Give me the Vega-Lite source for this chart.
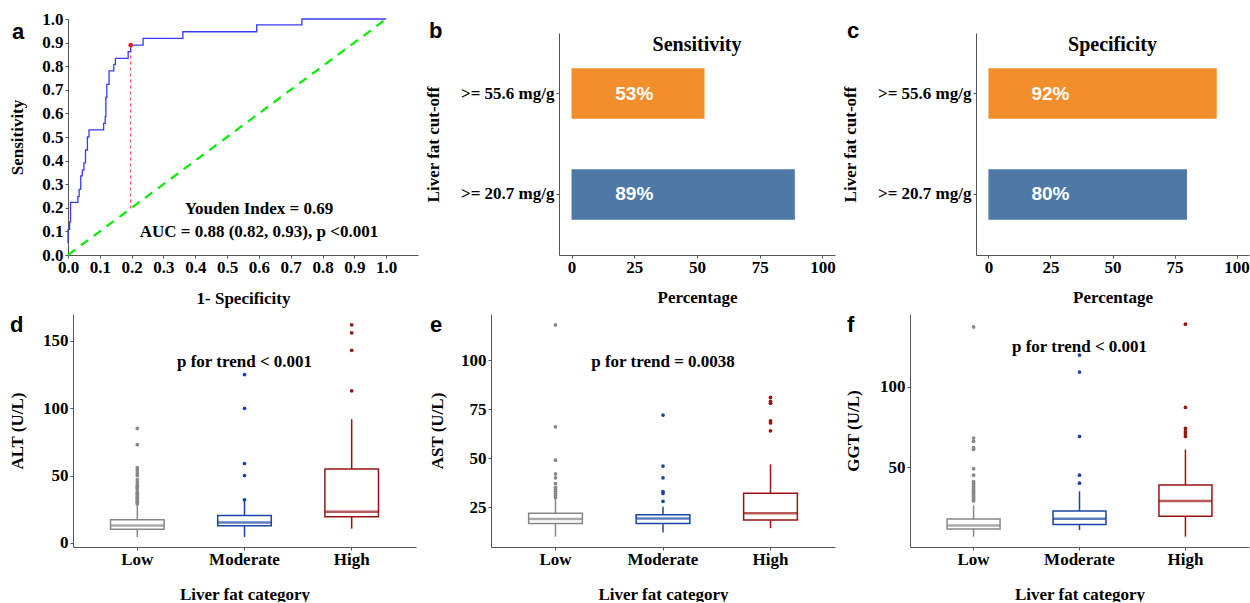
{
"$schema": "https://vega.github.io/schema/vega-lite/v6.json",
"autosize": {"type": "pad"},
"padding": {"left": 8, "top": 10, "right": 0, "bottom": 0},
"background": "white",
"spacing": 8,
"resolve": {"scale": {"color": "independent", "stroke": "independent"}},
"config": {
  "view": {"stroke": null},
  "axis": {"grid": false, "domainColor": "#555555", "tickColor": "#555555", "domainWidth": 1, "tickWidth": 1, "tickSize": 3, "labelPadding": 1, "labelFont": "Liberation Serif", "labelFontSize": 17, "labelFontWeight": "bold", "labelColor": "black", "titleFont": "Liberation Serif", "titleFontSize": 17, "titleFontWeight": "bold", "titleColor": "black", "labelAngle": 0, "labelOverlap": false, "labelFlush": false},
  "axisY": {"labelPadding": 2},
  "title": {"anchor": "start", "frame": "group", "font": "Liberation Sans", "fontSize": 22, "fontWeight": "bold", "color": "black", "baseline": "alphabetic", "offset": -20}
},
"datasets": {
  "roc": [
    {"i":0,"fpr":0,"tpr":0.05},{"i":1,"fpr":0,"tpr":0.109},{"i":2,"fpr":0.005,"tpr":0.109},{"i":3,"fpr":0.005,"tpr":0.14},{"i":4,"fpr":0.008,"tpr":0.14},{"i":5,"fpr":0.008,"tpr":0.223},{"i":6,"fpr":0.031,"tpr":0.223},{"i":7,"fpr":0.031,"tpr":0.247},{"i":8,"fpr":0.035,"tpr":0.247},{"i":9,"fpr":0.035,"tpr":0.278},{"i":10,"fpr":0.04,"tpr":0.278},{"i":11,"fpr":0.04,"tpr":0.335},{"i":12,"fpr":0.045,"tpr":0.335},{"i":13,"fpr":0.045,"tpr":0.36},{"i":14,"fpr":0.05,"tpr":0.36},{"i":15,"fpr":0.05,"tpr":0.39},{"i":16,"fpr":0.055,"tpr":0.39},{"i":17,"fpr":0.055,"tpr":0.445},{"i":18,"fpr":0.061,"tpr":0.445},{"i":19,"fpr":0.061,"tpr":0.5},{"i":20,"fpr":0.066,"tpr":0.5},{"i":21,"fpr":0.066,"tpr":0.53},{"i":22,"fpr":0.112,"tpr":0.53},{"i":23,"fpr":0.112,"tpr":0.558},{"i":24,"fpr":0.117,"tpr":0.558},{"i":25,"fpr":0.117,"tpr":0.586},{"i":26,"fpr":0.119,"tpr":0.586},{"i":27,"fpr":0.119,"tpr":0.668},{"i":28,"fpr":0.122,"tpr":0.668},{"i":29,"fpr":0.122,"tpr":0.723},{"i":30,"fpr":0.129,"tpr":0.723},{"i":31,"fpr":0.129,"tpr":0.78},{"i":32,"fpr":0.144,"tpr":0.78},{"i":33,"fpr":0.144,"tpr":0.808},{"i":34,"fpr":0.149,"tpr":0.808},{"i":35,"fpr":0.149,"tpr":0.833},{"i":36,"fpr":0.189,"tpr":0.833},{"i":37,"fpr":0.189,"tpr":0.862},{"i":38,"fpr":0.197,"tpr":0.862},{"i":39,"fpr":0.197,"tpr":0.889},{"i":40,"fpr":0.236,"tpr":0.889},{"i":41,"fpr":0.236,"tpr":0.918},{"i":42,"fpr":0.361,"tpr":0.918},{"i":43,"fpr":0.361,"tpr":0.946},{"i":44,"fpr":0.593,"tpr":0.946},{"i":45,"fpr":0.593,"tpr":0.975},{"i":46,"fpr":0.735,"tpr":0.975},{"i":47,"fpr":0.735,"tpr":1},{"i":48,"fpr":1,"tpr":1}
  ],
  "cut": [{"fpr": 0.197, "tpr": 0.889}],
  "sens": [{"cutoff": ">= 55.6 mg/g", "value": 53, "label": "53%"}, {"cutoff": ">= 20.7 mg/g", "value": 89, "label": "89%"}],
  "spec": [{"cutoff": ">= 55.6 mg/g", "value": 92, "label": "92%"}, {"cutoff": ">= 20.7 mg/g", "value": 80, "label": "80%"}],
  "alt_box": [{"cat":"Low","lo":4.4,"q1":10.1,"med":13,"q3":17.2,"hi":28},{"cat":"Moderate","lo":4.4,"q1":12.8,"med":15.2,"q3":20.4,"hi":31.5},{"cat":"High","lo":10.6,"q1":19.5,"med":23.2,"q3":54.9,"hi":91.9}],
  "alt_out": [{"cat":"Low","v":29},{"cat":"Low","v":30},{"cat":"Low","v":31},{"cat":"Low","v":32},{"cat":"Low","v":33},{"cat":"Low","v":34},{"cat":"Low","v":35},{"cat":"Low","v":36},{"cat":"Low","v":37},{"cat":"Low","v":38},{"cat":"Low","v":40},{"cat":"Low","v":41},{"cat":"Low","v":42},{"cat":"Low","v":43},{"cat":"Low","v":45},{"cat":"Low","v":47},{"cat":"Low","v":50},{"cat":"Low","v":52},{"cat":"Low","v":54},{"cat":"Low","v":56},{"cat":"Low","v":73},{"cat":"Low","v":85},{"cat":"Moderate","v":32},{"cat":"Moderate","v":50},{"cat":"Moderate","v":59},{"cat":"Moderate","v":100},{"cat":"Moderate","v":125},{"cat":"High","v":113},{"cat":"High","v":143},{"cat":"High","v":156},{"cat":"High","v":162}],
  "ast_box": [{"cat":"Low","lo":10,"q1":16.7,"med":19,"q3":21.9,"hi":29.6},{"cat":"Moderate","lo":12.1,"q1":16.7,"med":19.2,"q3":21.1,"hi":25.3},{"cat":"High","lo":14.3,"q1":18.5,"med":21.9,"q3":32.1,"hi":46.9}],
  "ast_out": [{"cat":"Low","v":30},{"cat":"Low","v":31},{"cat":"Low","v":32},{"cat":"Low","v":33},{"cat":"Low","v":34},{"cat":"Low","v":35},{"cat":"Low","v":37},{"cat":"Low","v":40},{"cat":"Low","v":42},{"cat":"Low","v":49},{"cat":"Low","v":66},{"cat":"Low","v":118},{"cat":"Moderate","v":28},{"cat":"Moderate","v":32},{"cat":"Moderate","v":33},{"cat":"Moderate","v":40},{"cat":"Moderate","v":46},{"cat":"Moderate","v":72},{"cat":"High","v":64},{"cat":"High","v":68},{"cat":"High","v":69},{"cat":"High","v":78},{"cat":"High","v":79},{"cat":"High","v":81}],
  "ggt_box": [{"cat":"Low","lo":6.8,"q1":11.5,"med":13.8,"q3":17.7,"hi":26.3},{"cat":"Moderate","lo":10.9,"q1":14.4,"med":17.9,"q3":22.8,"hi":35},{"cat":"High","lo":6.8,"q1":19.5,"med":29,"q3":38.9,"hi":60.9}],
  "ggt_out": [{"cat":"Low","v":29},{"cat":"Low","v":30},{"cat":"Low","v":31},{"cat":"Low","v":32},{"cat":"Low","v":33},{"cat":"Low","v":34},{"cat":"Low","v":35},{"cat":"Low","v":36},{"cat":"Low","v":37},{"cat":"Low","v":38},{"cat":"Low","v":39},{"cat":"Low","v":40},{"cat":"Low","v":41},{"cat":"Low","v":45},{"cat":"Low","v":49},{"cat":"Low","v":61},{"cat":"Low","v":62},{"cat":"Low","v":66},{"cat":"Low","v":68},{"cat":"Low","v":137},{"cat":"Moderate","v":40},{"cat":"Moderate","v":45},{"cat":"Moderate","v":69},{"cat":"Moderate","v":109},{"cat":"Moderate","v":119.5},{"cat":"High","v":69},{"cat":"High","v":70.5},{"cat":"High","v":72},{"cat":"High","v":74},{"cat":"High","v":87},{"cat":"High","v":138.7}]
},
"vconcat": [
 {"hconcat": [
  {"width": 350, "height": 236,
   "title": {"text": "a", "dx": -56, "dy": 14},
   "encoding": {
     "x": {"type": "quantitative", "scale": {"domain": [0, 1.1], "nice": false}, "axis": {"values": [0,0.1,0.2,0.3,0.4,0.5,0.6,0.7,0.8,0.9,1.0], "tickCount": 11, "format": ".1f", "title": "1- Specificity", "titlePadding": 15, "labelOverlap": false, "labelSeparation": 0}},
     "y": {"type": "quantitative", "scale": {"domain": [0, 1], "nice": false}, "axis": {"values": [0,0.1,0.2,0.3,0.4,0.5,0.6,0.7,0.8,0.9,1.0], "tickCount": 11, "format": ".1f", "title": "Sensitivity", "titlePadding": 15, "labelOverlap": false, "labelSeparation": 0}}
   },
   "layer": [
    {"data": {"values": [{}]},
     "mark": {"type": "rule", "color": "#00ee00", "strokeWidth": 2.2, "strokeDash": [9, 7]},
     "encoding": {"x": {"datum": 0}, "y": {"datum": 0}, "x2": {"datum": 1}, "y2": {"datum": 1}}},
    {"data": {"name": "cut"},
     "mark": {"type": "rule", "color": "#ff3030", "strokeWidth": 1, "strokeDash": [3, 3]},
     "encoding": {"x": {"field": "fpr"}, "y": {"field": "fpr"}, "y2": {"field": "tpr"}}},
    {"data": {"name": "roc"},
     "mark": {"type": "line", "color": "#3a3aff", "strokeWidth": 1.3},
     "encoding": {"x": {"field": "fpr"}, "y": {"field": "tpr"}, "order": {"field": "i", "type": "quantitative"}}},
    {"data": {"name": "cut"},
     "mark": {"type": "circle", "color": "#ff1a1a", "size": 22, "opacity": 1},
     "encoding": {"x": {"field": "fpr"}, "y": {"field": "tpr"}}},
    {"data": {"values": [{"t": "Youden Index = 0.69"}]},
     "mark": {"type": "text", "font": "Liberation Serif", "fontSize": 17, "fontWeight": "bold", "color": "black", "align": "center", "baseline": "middle"},
     "encoding": {"x": {"datum": 0.6}, "y": {"datum": 0.195}, "text": {"field": "t"}}},
    {"data": {"values": [{"t": "AUC = 0.88 (0.82, 0.93), p <0.001"}]},
     "mark": {"type": "text", "font": "Liberation Serif", "fontSize": 17, "fontWeight": "bold", "color": "black", "align": "center", "baseline": "middle"},
     "encoding": {"x": {"datum": 0.6}, "y": {"datum": 0.097}, "text": {"field": "t"}}}
   ]},
  {"width": 276, "height": 236,
   "title": {"text": "b", "dx": -130, "dy": 4},
   "resolve": {"scale": {"y": "independent"}},
   "layer": [
    {"layer": [
     {"data": {"name": "sens"},
      "mark": {"type": "bar"},
      "encoding": {
        "y": {"field": "cutoff", "type": "nominal", "sort": [">= 55.6 mg/g", ">= 20.7 mg/g"], "scale": {"domain": [">= 55.6 mg/g", ">= 20.7 mg/g"], "paddingInner": 0.5, "paddingOuter": 0.35, "range": [14, 236]}, "axis": {"title": "Liver fat cut-off", "titlePadding": 18}},
        "x": {"field": "value", "type": "quantitative", "scale": {"domain": [-5, 105], "nice": false}, "axis": {"values": [0, 25, 50, 75, 100], "title": "Percentage", "titlePadding": 14}},
        "x2": {"datum": 0},
        "color": {"field": "cutoff", "type": "nominal", "scale": {"domain": [">= 55.6 mg/g", ">= 20.7 mg/g"], "range": ["#f28e2b", "#4e79a7"]}, "legend": null}}},
     {"data": {"name": "sens"},
      "mark": {"type": "text", "font": "Liberation Sans", "fontSize": 19, "fontWeight": "bold", "color": "white", "align": "center", "baseline": "middle"},
      "encoding": {"y": {"field": "cutoff", "type": "nominal"}, "x": {"datum": 25}, "text": {"field": "label"}}}
    ]},
    {"data": {"values": [{"t": "Sensitivity"}]},
     "mark": {"type": "text", "font": "Liberation Serif", "fontSize": 20, "fontWeight": "bold", "color": "black", "align": "center", "baseline": "alphabetic"},
     "encoding": {"x": {"datum": 50}, "y": {"datum": 0.864, "type": "quantitative", "scale": {"domain": [0, 1]}, "axis": null}, "text": {"field": "t"}}}
   ]},
  {"width": 273, "height": 236,
   "title": {"text": "c", "dx": -129, "dy": 4},
   "resolve": {"scale": {"y": "independent"}},
   "layer": [
    {"layer": [
     {"data": {"name": "spec"},
      "mark": {"type": "bar"},
      "encoding": {
        "y": {"field": "cutoff", "type": "nominal", "sort": [">= 55.6 mg/g", ">= 20.7 mg/g"], "scale": {"domain": [">= 55.6 mg/g", ">= 20.7 mg/g"], "paddingInner": 0.5, "paddingOuter": 0.35, "range": [14, 236]}, "axis": {"title": "Liver fat cut-off", "titlePadding": 18}},
        "x": {"field": "value", "type": "quantitative", "scale": {"domain": [-5, 105], "nice": false}, "axis": {"values": [0, 25, 50, 75, 100], "title": "Percentage", "titlePadding": 14}},
        "x2": {"datum": 0},
        "color": {"field": "cutoff", "type": "nominal", "scale": {"domain": [">= 55.6 mg/g", ">= 20.7 mg/g"], "range": ["#f28e2b", "#4e79a7"]}, "legend": null}}},
     {"data": {"name": "spec"},
      "mark": {"type": "text", "font": "Liberation Sans", "fontSize": 19, "fontWeight": "bold", "color": "white", "align": "center", "baseline": "middle"},
      "encoding": {"y": {"field": "cutoff", "type": "nominal"}, "x": {"datum": 25}, "text": {"field": "label"}}}
    ]},
    {"data": {"values": [{"t": "Specificity"}]},
     "mark": {"type": "text", "font": "Liberation Serif", "fontSize": 20, "fontWeight": "bold", "color": "black", "align": "center", "baseline": "alphabetic"},
     "encoding": {"x": {"datum": 50}, "y": {"datum": 0.864, "type": "quantitative", "scale": {"domain": [0, 1]}, "axis": null}, "text": {"field": "t"}}}
   ]}
 ], "spacing": 141, "bounds": "flush", "resolve": {"scale": {"color": "independent", "stroke": "independent"}}},
 {"hconcat": [
  {"width": 348, "height": 233,
   "title": {"text": "d", "dx": -58, "dy": 3},
   "layer": [
    {"data": {"name": "alt_box"}, "mark": {"type": "rule", "strokeWidth": 1.5},
     "encoding": {
       "x": {"field": "cat", "type": "nominal", "scale": {"domain": ["Low","Moderate","High"], "paddingInner": 0.5, "paddingOuter": 0.35, "range": [5, 348]}, "axis": {"title": "Liver fat category", "titlePadding": 19}},
       "y": {"field": "lo", "type": "quantitative", "title": "ALT (U/L)", "scale": {"domain": [-3, 170], "nice": false, "zero": false}, "axis": {"values": [0, 50, 100, 150], "titlePadding": 16, "offset": -5}},
       "y2": {"field": "hi"},
       "color": {"field": "cat", "type": "nominal", "scale": {"domain": ["Low","Moderate","High"], "range": ["#878787","#1a46a3","#9b1414"]}, "legend": null}}},
    {"data": {"name": "alt_box"}, "mark": {"type": "bar", "fill": "white", "strokeWidth": 1.5},
     "encoding": {"x": {"field": "cat", "type": "nominal"}, "y": {"field": "q1", "type": "quantitative", "title": "ALT (U/L)"}, "y2": {"field": "q3"},
       "stroke": {"field": "cat", "type": "nominal", "scale": {"domain": ["Low","Moderate","High"], "range": ["#878787","#1a46a3","#9b1414"]}, "legend": null}}},
    {"data": {"name": "alt_box"}, "mark": {"type": "tick", "orient": "horizontal", "thickness": 2.5, "size": 53.6},
     "encoding": {"x": {"field": "cat", "type": "nominal"}, "y": {"field": "med", "type": "quantitative", "title": "ALT (U/L)"}, "color": {"field": "cat", "type": "nominal", "legend": null}}},
    {"data": {"name": "alt_out"}, "mark": {"type": "circle", "size": 14, "opacity": 1},
     "encoding": {"x": {"field": "cat", "type": "nominal"}, "y": {"field": "v", "type": "quantitative", "title": "ALT (U/L)"}, "color": {"field": "cat", "type": "nominal", "legend": null}}},
    {"data": {"values": [{"t": "p for trend < 0.001"}]},
     "mark": {"type": "text", "font": "Liberation Serif", "fontSize": 17, "fontWeight": "bold", "color": "black", "align": "center", "baseline": "middle"},
     "encoding": {"x": {"datum": "Moderate"}, "y": {"datum": 134.6}, "text": {"field": "t"}}}
   ]},
  {"width": 344, "height": 233,
   "title": {"text": "e", "dx": -61, "dy": 3},
   "layer": [
    {"data": {"name": "ast_box"}, "mark": {"type": "rule", "strokeWidth": 1.5},
     "encoding": {
       "x": {"field": "cat", "type": "nominal", "scale": {"domain": ["Low","Moderate","High"], "paddingInner": 0.5, "paddingOuter": 0.35}, "axis": {"title": "Liver fat category", "titlePadding": 19}},
       "y": {"field": "lo", "type": "quantitative", "title": "AST (U/L)", "scale": {"domain": [4.7, 123.6], "nice": false, "zero": false}, "axis": {"values": [25, 50, 75, 100], "titlePadding": 14}},
       "y2": {"field": "hi"},
       "color": {"field": "cat", "type": "nominal", "scale": {"domain": ["Low","Moderate","High"], "range": ["#878787","#1a46a3","#9b1414"]}, "legend": null}}},
    {"data": {"name": "ast_box"}, "mark": {"type": "bar", "fill": "white", "strokeWidth": 1.5},
     "encoding": {"x": {"field": "cat", "type": "nominal"}, "y": {"field": "q1", "type": "quantitative", "title": "AST (U/L)"}, "y2": {"field": "q3"},
       "stroke": {"field": "cat", "type": "nominal", "scale": {"domain": ["Low","Moderate","High"], "range": ["#878787","#1a46a3","#9b1414"]}, "legend": null}}},
    {"data": {"name": "ast_box"}, "mark": {"type": "tick", "orient": "horizontal", "thickness": 2.5, "size": 53.7},
     "encoding": {"x": {"field": "cat", "type": "nominal"}, "y": {"field": "med", "type": "quantitative", "title": "AST (U/L)"}, "color": {"field": "cat", "type": "nominal", "legend": null}}},
    {"data": {"name": "ast_out"}, "mark": {"type": "circle", "size": 14, "opacity": 1},
     "encoding": {"x": {"field": "cat", "type": "nominal"}, "y": {"field": "v", "type": "quantitative", "title": "AST (U/L)"}, "color": {"field": "cat", "type": "nominal", "legend": null}}},
    {"data": {"values": [{"t": "p for trend = 0.0038"}]},
     "mark": {"type": "text", "font": "Liberation Serif", "fontSize": 17, "fontWeight": "bold", "color": "black", "align": "center", "baseline": "middle"},
     "encoding": {"x": {"datum": "Moderate"}, "y": {"datum": 99.3}, "text": {"field": "t"}}}
   ]},
  {"width": 339, "height": 233,
   "title": {"text": "f", "dx": -63, "dy": 3},
   "layer": [
    {"data": {"name": "ggt_box"}, "mark": {"type": "rule", "strokeWidth": 1.5},
     "encoding": {
       "x": {"field": "cat", "type": "nominal", "scale": {"domain": ["Low","Moderate","High"], "paddingInner": 0.5, "paddingOuter": 0.35}, "axis": {"title": "Liver fat category", "titlePadding": 19}},
       "y": {"field": "lo", "type": "quantitative", "title": "GGT (U/L)", "scale": {"domain": [0.4, 145], "nice": false, "zero": false}, "axis": {"values": [50, 100], "titlePadding": 17}},
       "y2": {"field": "hi"},
       "color": {"field": "cat", "type": "nominal", "scale": {"domain": ["Low","Moderate","High"], "range": ["#878787","#1a46a3","#9b1414"]}, "legend": null}}},
    {"data": {"name": "ggt_box"}, "mark": {"type": "bar", "fill": "white", "strokeWidth": 1.5},
     "encoding": {"x": {"field": "cat", "type": "nominal"}, "y": {"field": "q1", "type": "quantitative", "title": "GGT (U/L)"}, "y2": {"field": "q3"},
       "stroke": {"field": "cat", "type": "nominal", "scale": {"domain": ["Low","Moderate","High"], "range": ["#878787","#1a46a3","#9b1414"]}, "legend": null}}},
    {"data": {"name": "ggt_box"}, "mark": {"type": "tick", "orient": "horizontal", "thickness": 2.5, "size": 53},
     "encoding": {"x": {"field": "cat", "type": "nominal"}, "y": {"field": "med", "type": "quantitative", "title": "GGT (U/L)"}, "color": {"field": "cat", "type": "nominal", "legend": null}}},
    {"data": {"name": "ggt_out"}, "mark": {"type": "circle", "size": 14, "opacity": 1},
     "encoding": {"x": {"field": "cat", "type": "nominal"}, "y": {"field": "v", "type": "quantitative", "title": "GGT (U/L)"}, "color": {"field": "cat", "type": "nominal", "legend": null}}},
    {"data": {"values": [{"t": "p for trend < 0.001"}]},
     "mark": {"type": "text", "font": "Liberation Serif", "fontSize": 17, "fontWeight": "bold", "color": "black", "align": "center", "baseline": "middle"},
     "encoding": {"x": {"datum": "Moderate"}, "y": {"datum": 124.7}, "text": {"field": "t"}}}
   ]}
 ], "spacing": 75, "bounds": "flush", "resolve": {"scale": {"color": "independent", "stroke": "independent"}}}
]
}
